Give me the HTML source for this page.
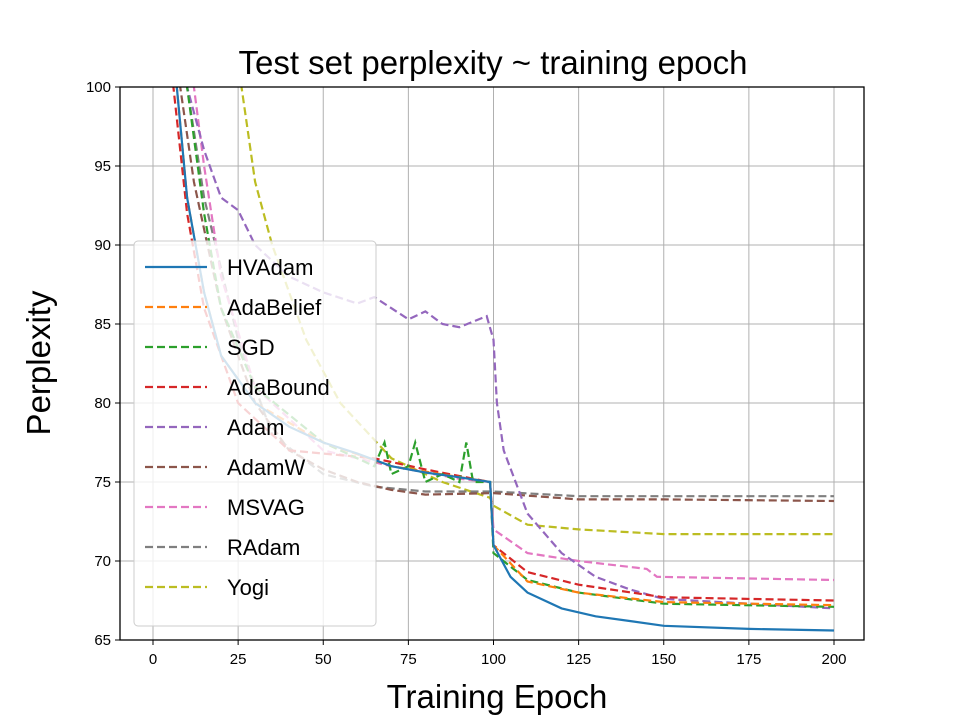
<!DOCTYPE html>
<html><head><meta charset="utf-8"><style>
body{margin:0;background:#fff;}
svg{font-family:"Liberation Sans","DejaVu Sans",sans-serif;}
</style></head><body>
<svg id="s" width="960" height="720" viewBox="0 0 960 720" xmlns="http://www.w3.org/2000/svg">
<rect width="960" height="720" fill="#fff"/>
<defs><clipPath id="c"><rect x="120" y="87" width="744" height="553"/></clipPath></defs>
<g id="grid" stroke="#b0b0b0" stroke-width="1"></g>
<g id="lines" clip-path="url(#c)" fill="none" stroke-width="2.2"></g>
<rect x="120" y="87" width="744" height="553" fill="none" stroke="#000" stroke-width="1.3"/>
<g id="ticks" font-size="15" fill="#000"></g>
<text x="493" y="74" font-size="33" text-anchor="middle">Test set perplexity ~ training epoch</text>
<text x="497" y="708" font-size="33" text-anchor="middle">Training Epoch</text>
<text transform="translate(50,363) rotate(-90)" font-size="33" text-anchor="middle">Perplexity</text>
<g id="legend"></g>
</svg>
<script>
const X=e=>153+3.405*e, Y=p=>87+(100-p)*15.8;
const ns="http://www.w3.org/2000/svg";
function el(t,a,p){const n=document.createElementNS(ns,t);for(const k in a)n.setAttribute(k,a[k]);(p||document.getElementById('s')).appendChild(n);return n;}
const grid=document.getElementById('grid'),ticks=document.getElementById('ticks');
for(let e=0;e<=200;e+=25){el('line',{x1:X(e),x2:X(e),y1:87,y2:640},grid);el('line',{x1:X(e),x2:X(e),y1:640,y2:645,stroke:'#000'},ticks);const t=el('text',{x:X(e),y:664,'text-anchor':'middle'},ticks);t.textContent=e;}
for(let p=65;p<=100;p+=5){el('line',{x1:120,x2:864,y1:Y(p),y2:Y(p)},grid);el('line',{x1:115,x2:120,y1:Y(p),y2:Y(p),stroke:'#000'},ticks);const t=el('text',{x:111,y:Y(p)+5,'text-anchor':'end'},ticks);t.textContent=p;}
const S=[
["HVAdam","#1f77b4",0,[[5,104],[7,100],[10,93],[15,87],[20,83],[30,80],[40,78.5],[50,77.5],[60,76.8],[70,76],[80,75.6],[90,75.3],[99,75],[100,71],[105,69],[110,68],[120,67],[130,66.5],[140,66.2],[150,65.9],[175,65.7],[200,65.6]]],
["AdaBelief","#ff7f0e",1,[[5,104],[7,100],[10,93],[15,87],[20,83],[30,80],[50,77.5],[70,76],[99,75],[100,71],[110,68.7],[125,68],[150,67.4],[200,67.2]]],
["SGD","#2ca02c",1,[[8,104],[10,100],[15,92],[20,86],[30,81],[50,77.5],[65,76],[68,77.5],[70,75.5],[75,76],[77,77.5],[80,75],[85,75.5],[90,75],[92,77.5],[94,75],[99,75],[100,70.5],[110,68.8],[125,68],[150,67.3],[200,67.1]]],
["AdaBound","#d62728",1,[[5,104],[6,100],[10,92],[15,86],[25,80],[40,77],[65,76.5],[80,75.8],[99,75],[100,71],[110,69.3],[125,68.5],[150,67.7],[200,67.5]]],
["Adam","#9467bd",1,[[8,104],[10,100],[15,96],[20,93],[25,92.2],[30,90],[40,88],[50,87],[60,86.3],[65,86.7],[70,86],[75,85.3],[80,85.8],[85,85],[90,84.8],[98,85.5],[100,84],[101,80],[103,77],[110,73],[120,70.5],[130,69],[140,68.2],[150,67.6],[200,67]]],
["AdamW","#8c564b",1,[[6,104],[8,100],[12,94],[20,86],[30,80],[40,77],[50,75.8],[60,75],[70,74.5],[80,74.2],[100,74.3],[125,73.9],[150,73.9],[200,73.8]]],
["MSVAG","#e377c2",1,[[10,104],[12,100],[15,95],[20,88],[30,81],[50,77],[70,76],[90,75.2],[99,75],[100,72],[110,70.5],[125,70],[145,69.5],[148,69],[200,68.8]]],
["RAdam","#7f7f7f",1,[[8,104],[10,100],[15,93],[25,84],[35,78],[50,75.5],[65,74.7],[80,74.4],[100,74.4],[125,74.1],[150,74.1],[200,74.1]]],
["Yogi","#bcbd22",1,[[24,104],[26,100],[30,94],[35,90],[45,84],[55,80],[70,76.5],[85,75],[99,74],[100,73.5],[110,72.3],[125,72],[150,71.7],[200,71.7]]]];
const L=document.getElementById('lines');
S.slice().reverse().forEach(s=>{const a={points:s[3].map(q=>X(q[0]).toFixed(1)+','+Y(q[1]).toFixed(1)).join(' '),stroke:s[1]};if(s[2])a['stroke-dasharray']='8,4';el('polyline',a,L);});
const G=document.getElementById('legend');
el('rect',{x:134,y:241,width:242,height:385,rx:4,fill:'#fff','fill-opacity':0.8,stroke:'#ccc'},G);
S.forEach((s,i)=>{const y=267+40*i;const a={x1:145,x2:207,y1:y,y2:y,stroke:s[1],'stroke-width':2.2};if(s[2])a['stroke-dasharray']='8,4';el('line',a,G);const t=el('text',{x:227,y:y+8,'font-size':22},G);t.textContent=s[0];});
</script>
</body></html>
